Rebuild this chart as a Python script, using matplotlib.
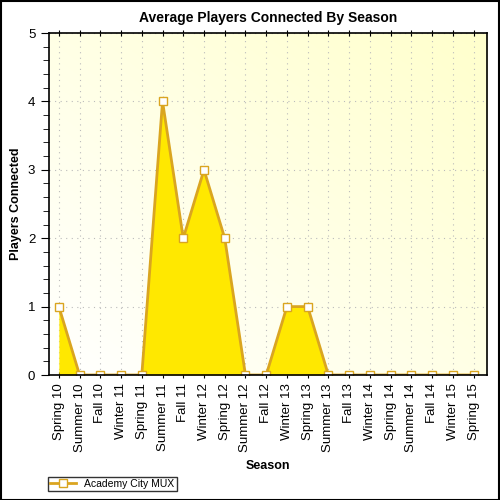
import numpy as np
import matplotlib.pyplot as plt
from matplotlib.ticker import MultipleLocator

seasons = ['Spring 10', 'Summer 10', 'Fall 10', 'Winter 11', 'Spring 11', 'Summer 11',
           'Fall 11', 'Winter 12', 'Spring 12', 'Summer 12', 'Fall 12', 'Winter 13',
           'Spring 13', 'Summer 13', 'Fall 13', 'Winter 14', 'Spring 14', 'Summer 14',
           'Fall 14', 'Winter 15', 'Spring 15']
players = [1, 0, 0, 0, 0, 4, 2, 3, 2, 0, 0, 1, 1, 0, 0, 0, 0, 0, 0, 0, 0]
series_name = 'Academy City MUX'

plt.rcParams['font.family'] = ['Liberation Sans', 'DejaVu Sans']

fig = plt.figure(figsize=(5, 5), dpi=100)
ax = fig.add_axes([0.097, 0.25, 0.877, 0.684])

x = np.arange(len(seasons))

# background gradient (white top-left to light yellow bottom-right)
gx, gy = np.meshgrid(np.linspace(0, 1, 200), np.linspace(0, 1, 200))
t = np.clip((gx + (1 - gy)) / 2, 0, 1)
c0 = np.array([1.0, 1.0, 1.0])
c1 = np.array([1.0, 1.0, 0.80])
img = c0 + (c1 - c0) * t[..., None]
ax.imshow(img, extent=[-0.5, 20.65, 0, 5], aspect='auto', zorder=0, origin='upper')

ax.fill_between(x, players, 0, color='#FFE800', zorder=2, linewidth=0)
ax.plot(x, players, color='#DAA520', linewidth=2, marker='s', markersize=6,
        markerfacecolor='white', markeredgecolor='#DAA520', zorder=3,
        label=series_name)

ax.set_xlim(-0.5, 20.65)
ax.set_ylim(0, 5)
ax.set_xticks(x)
ax.set_xticklabels(seasons, rotation=90, fontsize=9.5)
ax.yaxis.set_major_locator(MultipleLocator(1))
ax.yaxis.set_minor_locator(MultipleLocator(0.2))
ax.tick_params(axis='y', which='major', length=6, labelsize=9.5, direction='out')
ax.tick_params(axis='y', which='minor', length=4, direction='out')
ax.tick_params(axis='x', length=5, direction='inout', top=True)
ax.grid(True, linestyle=(0, (1, 4)), color='#BBBBBB', linewidth=0.8, zorder=1)

for s in ax.spines.values():
    s.set_linewidth(1.2)
    s.set_zorder(5)

ax.set_title('Average Players Connected By Season', fontsize=10, fontweight='bold', pad=8)
ax.set_ylabel('Players Connected', fontsize=9, fontweight='bold', labelpad=4)
ax.set_xlabel('Season', fontsize=9, fontweight='bold', labelpad=6)

ax.legend(loc='lower left', bbox_to_anchor=(0.096, 0.018), bbox_transform=fig.transFigure,
          fontsize=7.5, frameon=True, fancybox=False, edgecolor='black',
          borderpad=0.2, handlelength=2.5, borderaxespad=0)

fig.patches.append(plt.Rectangle((0.001, 0.001), 0.997, 0.997, transform=fig.transFigure,
                                 fill=False, edgecolor='black', linewidth=1.5))

fig.savefig('out.png', dpi=100)
